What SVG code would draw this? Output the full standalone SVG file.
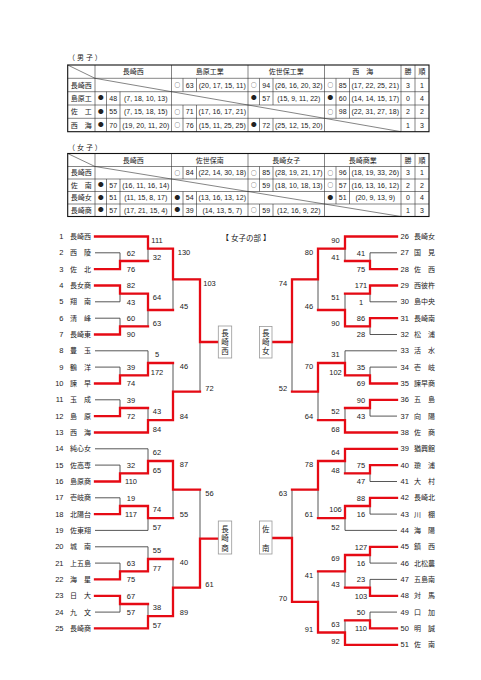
<svg xmlns="http://www.w3.org/2000/svg" width="481" height="680" viewBox="0 0 481 680">
<style>
text{font-family:"Liberation Sans","Noto Sans CJK JP",sans-serif;fill:#222}
.tc{font-size:7px;text-anchor:middle}
.ci{font-family:"Noto Sans CJK JP",sans-serif;font-size:5.6px;text-anchor:middle}
.lbl{font-size:7px}
.n{font-size:7.5px}
.ln{font-size:7.5px;text-anchor:end}
.nm{font-size:7px}
.s{font-size:7.5px;text-anchor:middle}
.bx{font-size:7.5px;text-anchor:middle}
.g{fill:none;stroke:#444;stroke-width:0.9}
.r{fill:none;stroke:#e60a14;stroke-width:2.3;stroke-linejoin:miter;stroke-linecap:square}
.tb{fill:none;stroke:#333;stroke-width:0.6}
.tbo{fill:none;stroke:#111;stroke-width:1.1}
.box{fill:#fff;stroke:#999;stroke-width:0.8}
</style>
<rect width="481" height="680" fill="#fff"/>

<g id="table-men">
<text class="lbl" x="68" y="60">（ 男 子 ）</text>
<path class="tb" d="M67.7 78.3H429M67.7 91.7H429M67.7 105H429M67.7 118.3H429
M95 65V131.7M171.5 65V131.7M248 65V131.7M324.5 65V131.7M401 65V131.7M415 65V131.7
M106.5 91.7V131.7M120 91.7V131.7
M183 78.3V91.7M196.5 78.3V91.7M183 105V131.7M196.5 105V131.7
M259.5 78.3V105M273 78.3V105M259.5 118.3V131.7M273 118.3V131.7
M336 78.3V118.3M349.5 78.3V118.3
M67.7 65L95 78.3M95 78.3L171.5 91.7M171.5 91.7L248 105M248 105L324.5 118.3M324.5 118.3L401 131.7"/>
<rect class="tbo" x="67.7" y="65" width="361.3" height="66.7"/>
<text class="tc" x="133.25" y="74.2">長崎西</text>
<text class="tc" x="209.75" y="74.2">島原工業</text>
<text class="tc" x="286.25" y="74.2">佐世保工業</text>
<text class="tc" x="362.75" y="74.2">西　海</text>
<text class="tc" x="408" y="74.2">勝</text>
<text class="tc" x="422" y="74.2">順</text>
<text class="tc" x="81.35" y="87.5">長崎西</text>
<text class="tc" x="81.35" y="100.85">島原工</text>
<text class="tc" x="81.35" y="114.15">佐　工</text>
<text class="tc" x="81.35" y="127.5">西　海</text>
<text class="ci" x="177.25" y="87.1">○</text><text class="tc" x="189.75" y="87.5">63</text><text class="tc" x="222.25" y="87.5">(20, 17, 15, 11)</text>
<text class="ci" x="253.75" y="87.1">○</text><text class="tc" x="266.25" y="87.5">94</text><text class="tc" x="298.75" y="87.5">(26, 16, 20, 32)</text>
<text class="ci" x="330.25" y="87.1">○</text><text class="tc" x="342.75" y="87.5">85</text><text class="tc" x="375.25" y="87.5">(17, 22, 25, 21)</text>
<text class="tc" x="408" y="87.5">3</text><text class="tc" x="422" y="87.5">1</text>
<text class="ci" x="100.75" y="100.45">●</text><text class="tc" x="113.25" y="100.85">48</text><text class="tc" x="145.75" y="100.85">(7, 18, 10, 13)</text>
<text class="ci" x="253.75" y="100.45">●</text><text class="tc" x="266.25" y="100.85">57</text><text class="tc" x="298.75" y="100.85">(15, 9, 11, 22)</text>
<text class="ci" x="330.25" y="100.45">●</text><text class="tc" x="342.75" y="100.85">60</text><text class="tc" x="375.25" y="100.85">(14, 14, 15, 17)</text>
<text class="tc" x="408" y="100.85">0</text><text class="tc" x="422" y="100.85">4</text>
<text class="ci" x="100.75" y="113.75">●</text><text class="tc" x="113.25" y="114.15">55</text><text class="tc" x="145.75" y="114.15">(7, 15, 18, 15)</text>
<text class="ci" x="177.25" y="113.75">○</text><text class="tc" x="189.75" y="114.15">71</text><text class="tc" x="222.25" y="114.15">(17, 16, 17, 21)</text>
<text class="ci" x="330.25" y="113.75">○</text><text class="tc" x="342.75" y="114.15">98</text><text class="tc" x="375.25" y="114.15">(22, 31, 27, 18)</text>
<text class="tc" x="408" y="114.15">2</text><text class="tc" x="422" y="114.15">2</text>
<text class="ci" x="100.75" y="127.1">●</text><text class="tc" x="113.25" y="127.5">70</text><text class="tc" x="145.75" y="127.5">(19, 20, 11, 20)</text>
<text class="ci" x="177.25" y="127.1">○</text><text class="tc" x="189.75" y="127.5">76</text><text class="tc" x="222.25" y="127.5">(15, 11, 25, 25)</text>
<text class="ci" x="253.75" y="127.1">●</text><text class="tc" x="266.25" y="127.5">72</text><text class="tc" x="298.75" y="127.5">(25, 12, 15, 20)</text>
<text class="tc" x="408" y="127.5">1</text><text class="tc" x="422" y="127.5">3</text>
</g>

<g id="table-women">
<text class="lbl" x="68" y="149.5">（ 女 子 ）</text>
<path class="tb" d="M67.7 166.5H429M67.7 179H429M67.7 191.5H429M67.7 204H429
M95 153.5V216.5M171.5 153.5V216.5M248 153.5V216.5M324.5 153.5V216.5M401 153.5V216.5M415 153.5V216.5
M106.5 179V216.5M120 179V216.5
M183 166.5V179M196.5 166.5V179M183 191.5V216.5M196.5 191.5V216.5
M259.5 166.5V191.5M273 166.5V191.5M259.5 204V216.5M273 204V216.5
M336 166.5V204M349.5 166.5V204
M67.7 153.5L95 166.5M95 166.5L171.5 179M171.5 179L248 191.5M248 191.5L324.5 204M324.5 204L401 216.5"/>
<rect class="tbo" x="67.7" y="153.5" width="361.3" height="63"/>
<text class="tc" x="133.25" y="162.5">長崎西</text>
<text class="tc" x="209.75" y="162.5">佐世保南</text>
<text class="tc" x="286.25" y="162.5">長崎女子</text>
<text class="tc" x="362.75" y="162.5">長崎商業</text>
<text class="tc" x="408" y="162.5">勝</text>
<text class="tc" x="422" y="162.5">順</text>
<text class="tc" x="81.35" y="175.25">長崎西</text>
<text class="tc" x="81.35" y="187.75">佐　南</text>
<text class="tc" x="81.35" y="200.25">長崎女</text>
<text class="tc" x="81.35" y="212.75">長崎商</text>
<text class="ci" x="177.25" y="174.85">○</text><text class="tc" x="189.75" y="175.25">84</text><text class="tc" x="222.25" y="175.25">(22, 14, 30, 18)</text>
<text class="ci" x="253.75" y="174.85">○</text><text class="tc" x="266.25" y="175.25">85</text><text class="tc" x="298.75" y="175.25">(28, 19, 21, 17)</text>
<text class="ci" x="330.25" y="174.85">○</text><text class="tc" x="342.75" y="175.25">96</text><text class="tc" x="375.25" y="175.25">(18, 19, 33, 26)</text>
<text class="tc" x="408" y="175.25">3</text><text class="tc" x="422" y="175.25">1</text>
<text class="ci" x="100.75" y="187.35">●</text><text class="tc" x="113.25" y="187.75">57</text><text class="tc" x="145.75" y="187.75">(16, 11, 16, 14)</text>
<text class="ci" x="253.75" y="187.35">○</text><text class="tc" x="266.25" y="187.75">59</text><text class="tc" x="298.75" y="187.75">(18, 10, 18, 13)</text>
<text class="ci" x="330.25" y="187.35">○</text><text class="tc" x="342.75" y="187.75">57</text><text class="tc" x="375.25" y="187.75">(16, 13, 16, 12)</text>
<text class="tc" x="408" y="187.75">2</text><text class="tc" x="422" y="187.75">2</text>
<text class="ci" x="100.75" y="199.85">●</text><text class="tc" x="113.25" y="200.25">51</text><text class="tc" x="145.75" y="200.25">(11, 15, 8, 17)</text>
<text class="ci" x="177.25" y="199.85">●</text><text class="tc" x="189.75" y="200.25">54</text><text class="tc" x="222.25" y="200.25">(13, 16, 13, 12)</text>
<text class="ci" x="330.25" y="199.85">●</text><text class="tc" x="342.75" y="200.25">51</text><text class="tc" x="375.25" y="200.25">(20, 9, 13, 9)</text>
<text class="tc" x="408" y="200.25">0</text><text class="tc" x="422" y="200.25">4</text>
<text class="ci" x="100.75" y="212.35">●</text><text class="tc" x="113.25" y="212.75">57</text><text class="tc" x="145.75" y="212.75">(17, 21, 15, 4)</text>
<text class="ci" x="177.25" y="212.35">●</text><text class="tc" x="189.75" y="212.75">39</text><text class="tc" x="222.25" y="212.75">(14, 13, 5, 7)</text>
<text class="ci" x="253.75" y="212.35">○</text><text class="tc" x="266.25" y="212.75">59</text><text class="tc" x="298.75" y="212.75">(12, 16, 9, 22)</text>
<text class="tc" x="408" y="212.75">1</text><text class="tc" x="422" y="212.75">3</text>
</g>

<text id="title" class="bx" x="246" y="241">【 女子の部 】</text>

<g id="connectors">
<path class="g" d="M95 236.5H148M95 252.8H120M95 269.2H120M95 285.5H120M95 301.8H120M95 318.2H120M95 334.5H120M95 350.8H148M95 367.1H120M95 383.5H120M95 399.8H120M95 416.1H120M95 432.5H148M95 448.8H148M95 465.1H120M95 481.5H120M95 497.8H120M95 514.1H120M95 530.4H148M95 546.8H148M95 563.1H120M95 579.4H120M95 595.8H120M95 612.1H120M95 628.4H148
M120 252.8V269.2M120 261H148M120 285.5V301.8M120 293.7H148M120 318.2V334.5M120 326.3H148M120 367.1V383.5M120 375.3H148M120 399.8V416.1M120 408H148M120 465.1V481.5M120 473.3H148M120 497.8V514.1M120 506H148M120 563.1V579.4M120 571.3H148M120 595.8V612.1M120 604H148
M148 236.5V261M148 248.7H173M148 293.7V326.3M148 310H173M148 350.8V375.3M148 363H173M148 408V432.5M148 420.2H173M148 448.8V473.3M148 461H173M148 506V530.4M148 518.2H173M148 546.8V571.3M148 559H173M148 604V628.4M148 616.2H173
M173 248.7V310M173 279.3H200M173 363V420.2M173 391.6H200M173 461V518.2M173 489.6H200M173 559V616.2M173 587.7H200
M200 279.3V391.6M200 342H218.3M200 489.6V587.7M200 538.6H218.3"/>
<path class="g" d="M397 236.5H345M397 252.8H370M397 269.2H370M397 285.5H370M397 301.8H370M397 318.2H370M397 334.5H370M397 350.8H345M397 367.1H370M397 383.5H370M397 399.8H370M397 416.1H370M397 432.5H345M397 448.8H345M397 465.1H370M397 481.5H370M397 497.8H370M397 514.1H370M397 530.4H345M397 546.8H370M397 563.1H370M397 579.4H370M397 595.8H370M397 612.1H370M397 628.4H370M397 644.8H345
M370 252.8V269.2M370 261H345M370 285.5V301.8M370 293.7H345M370 318.2V334.5M370 326.3H345M370 367.1V383.5M370 375.3H345M370 399.8V416.1M370 408H345M370 465.1V481.5M370 473.3H345M370 497.8V514.1M370 506H345M370 546.8V563.1M370 555H345M370 579.4V595.8M370 587.6H345M370 612.1V628.4M370 620.3H345
M345 236.5V261M345 248.7H318M345 293.7V326.3M345 310H318M345 350.8V375.3M345 363H318M345 408V432.5M345 420.2H318M345 448.8V473.3M345 461H318M345 506V530.4M345 518.2H318M345 555V587.6M345 571.3H318M345 620.3V644.8M345 632.5H318
M318 248.7V310M318 279.3H292M318 363V420.2M318 391.6H292M318 461V518.2M318 489.6H292M318 571.3V632.5M318 601.9H292
M292 279.3V391.6M292 342H272M292 489.6V601.9M292 538H272"/>
<path class="r" d="M95 236.5H148V248.7H173V279.3H200V342H218
M95 269.2H120V261H148
M95 285.5H120V293.7H148V310H173
M95 334.5H120V326.3H148
M95 383.5H120V375.3H148V363H173
M95 416.1H120V408H148
M95 432.5H148V420.2H173V391.6H200
M95 481.5H120V473.3H148V461H173V489.6H200
M95 514.1H120V506H148V518.2H173
M95 579.4H120V571.3H148V559H173
M95 595.8H120V604H148
M95 628.4H148V616.2H173V587.7H200V538.6H218"/>
<path class="r" d="M397 236.5H345V248.7H318V279.3H292V342H272.5
M397 269.2H370V261H345
M397 285.5H370V293.7H345
M397 318.2H370V326.3H345V310H318
M397 383.5H370V375.3H345V363H318V391.6H292
M397 399.8H370V408H345
M397 432.5H345V420.2H318
M397 448.8H345V461H318V489.6H292
M397 465.1H370V473.3H345
M397 497.8H370V506H345V518.2H318
M397 546.8H370V555H345V571.3H318
M397 595.8H370V587.6H345
M397 628.4H370V620.3H345
M397 644.8H345V632.5H318V601.9H292V538H272.5"/>
</g>

<g id="scores">
<text class="s" x="131" y="255.5">62</text><text class="s" x="131" y="271.9">76</text>
<text class="s" x="131" y="288.2">82</text><text class="s" x="131" y="304.5">43</text>
<text class="s" x="131" y="320.9">60</text><text class="s" x="131" y="337.2">90</text>
<text class="s" x="131" y="369.8">39</text><text class="s" x="131" y="386.2">74</text>
<text class="s" x="131" y="402.5">39</text><text class="s" x="131" y="418.8">72</text>
<text class="s" x="131" y="467.8">32</text><text class="s" x="131" y="484.2">110</text>
<text class="s" x="131" y="500.5">19</text><text class="s" x="131" y="516.8">117</text>
<text class="s" x="131" y="565.8">63</text><text class="s" x="131" y="582.1">75</text>
<text class="s" x="131" y="598.5">67</text><text class="s" x="131" y="614.8">57</text>
<text class="s" x="157" y="242.7">111</text><text class="s" x="157" y="260.2">32</text>
<text class="s" x="157" y="299.9">64</text><text class="s" x="157" y="325.5">63</text>
<text class="s" x="157" y="357">5</text><text class="s" x="157" y="374.5">172</text>
<text class="s" x="157" y="414.2">43</text><text class="s" x="157" y="431.7">84</text>
<text class="s" x="157" y="455">62</text><text class="s" x="157" y="472.5">65</text>
<text class="s" x="157" y="512.2">74</text><text class="s" x="157" y="529.6">57</text>
<text class="s" x="157" y="553">55</text><text class="s" x="157" y="570.5">77</text>
<text class="s" x="157" y="610.2">38</text><text class="s" x="157" y="627.6">57</text>
<text class="s" x="184" y="254.9">130</text><text class="s" x="184" y="309.2">45</text>
<text class="s" x="184" y="369.2">46</text><text class="s" x="184" y="419.4">84</text>
<text class="s" x="184" y="467.2">87</text><text class="s" x="184" y="517.4">55</text>
<text class="s" x="184" y="565.2">40</text><text class="s" x="184" y="615.4">89</text>
<text class="s" x="209.5" y="285.5">103</text><text class="s" x="209.5" y="390.8">72</text>
<text class="s" x="209.5" y="495.8">56</text><text class="s" x="209.5" y="586.9">61</text>

<text class="s" x="361" y="255.5">41</text><text class="s" x="361" y="271.9">75</text>
<text class="s" x="361" y="288.2">171</text><text class="s" x="361" y="304.5">1</text>
<text class="s" x="361" y="320.9">86</text><text class="s" x="361" y="337.2">28</text>
<text class="s" x="361" y="369.8">35</text><text class="s" x="361" y="386.2">69</text>
<text class="s" x="361" y="402.5">90</text><text class="s" x="361" y="418.8">43</text>
<text class="s" x="361" y="467.8">75</text><text class="s" x="361" y="484.2">47</text>
<text class="s" x="361" y="500.5">88</text><text class="s" x="361" y="516.8">16</text>
<text class="s" x="361" y="549.5">127</text><text class="s" x="361" y="565.8">16</text>
<text class="s" x="361" y="582.1">23</text><text class="s" x="361" y="598.5">103</text>
<text class="s" x="361" y="614.8">50</text><text class="s" x="361" y="631.1">110</text>
<text class="s" x="335.5" y="242.7">90</text><text class="s" x="335.5" y="260.2">41</text>
<text class="s" x="335.5" y="299.9">51</text><text class="s" x="335.5" y="325.5">90</text>
<text class="s" x="335.5" y="357">31</text><text class="s" x="335.5" y="374.5">102</text>
<text class="s" x="335.5" y="414.2">52</text><text class="s" x="335.5" y="431.7">68</text>
<text class="s" x="335.5" y="455">64</text><text class="s" x="335.5" y="472.5">48</text>
<text class="s" x="335.5" y="512.2">106</text><text class="s" x="335.5" y="529.6">52</text>
<text class="s" x="335.5" y="561.2">69</text><text class="s" x="335.5" y="586.8">43</text>
<text class="s" x="335.5" y="626.5">63</text><text class="s" x="335.5" y="644">92</text>
<text class="s" x="309" y="254.9">80</text><text class="s" x="309" y="309.2">46</text>
<text class="s" x="309" y="369.2">70</text><text class="s" x="309" y="419.4">64</text>
<text class="s" x="309" y="467.2">78</text><text class="s" x="309" y="517.4">61</text>
<text class="s" x="309" y="577.5">41</text><text class="s" x="309" y="631.7">91</text>
<text class="s" x="283" y="285.5">74</text><text class="s" x="283" y="390.8">52</text>
<text class="s" x="283" y="495.8">63</text><text class="s" x="283" y="601.1">70</text>
</g>

<g id="box-nagasakinishi"><rect class="box" x="218.3" y="326" width="13.4" height="32"/><text class="bx" x="225" y="336.1">長</text><text class="bx" x="225" y="344.6">崎</text><text class="bx" x="225" y="354.1">西</text></g>
<g id="box-nagasakisho"><rect class="box" x="218.3" y="521" width="13.4" height="33"/><text class="bx" x="225" y="531.9">長</text><text class="bx" x="225" y="540.9">崎</text><text class="bx" x="225" y="550.9">商</text></g>
<g id="box-nagasakijo"><rect class="box" x="259.5" y="326.5" width="12.5" height="31.5"/><text class="bx" x="265.75" y="336.1">長</text><text class="bx" x="265.75" y="344.6">崎</text><text class="bx" x="265.75" y="354.1">女</text></g>
<g id="box-sanan"><rect class="box" x="259.5" y="521" width="12.5" height="33"/><text class="bx" x="265.75" y="532">佐</text><text class="bx" x="265.75" y="550.9">南</text></g>

<g id="t1"><text class="ln" x="63.5" y="239.1">1</text><text class="nm" x="70" y="239.1">長崎西</text></g>
<g id="t2"><text class="ln" x="63.5" y="255.4">2</text><text class="nm" x="70" y="255.4">西　陵</text></g>
<g id="t3"><text class="ln" x="63.5" y="271.8">3</text><text class="nm" x="70" y="271.8">佐　北</text></g>
<g id="t4"><text class="ln" x="63.5" y="288.1">4</text><text class="nm" x="70" y="288.1">長女商</text></g>
<g id="t5"><text class="ln" x="63.5" y="304.4">5</text><text class="nm" x="70" y="304.4">翔　南</text></g>
<g id="t6"><text class="ln" x="63.5" y="320.8">6</text><text class="nm" x="70" y="320.8">清　峰</text></g>
<g id="t7"><text class="ln" x="63.5" y="337.1">7</text><text class="nm" x="70" y="337.1">長崎東</text></g>
<g id="t8"><text class="ln" x="63.5" y="353.4">8</text><text class="nm" x="70" y="353.4">豊　玉</text></g>
<g id="t9"><text class="ln" x="63.5" y="369.7">9</text><text class="nm" x="70" y="369.7">鶴　洋</text></g>
<g id="t10"><text class="ln" x="63.5" y="386.1">10</text><text class="nm" x="70" y="386.1">諫　早</text></g>
<g id="t11"><text class="ln" x="63.5" y="402.4">11</text><text class="nm" x="70" y="402.4">玉　成</text></g>
<g id="t12"><text class="ln" x="63.5" y="418.7">12</text><text class="nm" x="70" y="418.7">島　原</text></g>
<g id="t13"><text class="ln" x="63.5" y="435.1">13</text><text class="nm" x="70" y="435.1">西　海</text></g>
<g id="t14"><text class="ln" x="63.5" y="451.4">14</text><text class="nm" x="70" y="451.4">純心女</text></g>
<g id="t15"><text class="ln" x="63.5" y="467.7">15</text><text class="nm" x="70" y="467.7">佐高専</text></g>
<g id="t16"><text class="ln" x="63.5" y="484.1">16</text><text class="nm" x="70" y="484.1">島原商</text></g>
<g id="t17"><text class="ln" x="63.5" y="500.4">17</text><text class="nm" x="70" y="500.4">壱岐商</text></g>
<g id="t18"><text class="ln" x="63.5" y="516.7">18</text><text class="nm" x="70" y="516.7">北陽台</text></g>
<g id="t19"><text class="ln" x="63.5" y="533">19</text><text class="nm" x="70" y="533">佐東翔</text></g>
<g id="t20"><text class="ln" x="63.5" y="549.4">20</text><text class="nm" x="70" y="549.4">城　南</text></g>
<g id="t21"><text class="ln" x="63.5" y="565.7">21</text><text class="nm" x="70" y="565.7">上五島</text></g>
<g id="t22"><text class="ln" x="63.5" y="582">22</text><text class="nm" x="70" y="582">海　星</text></g>
<g id="t23"><text class="ln" x="63.5" y="598.4">23</text><text class="nm" x="70" y="598.4">日　大</text></g>
<g id="t24"><text class="ln" x="63.5" y="614.7">24</text><text class="nm" x="70" y="614.7">九　文</text></g>
<g id="t25"><text class="ln" x="63.5" y="631">25</text><text class="nm" x="70" y="631">長崎商</text></g>

<g id="t26"><text class="n" x="400.5" y="239.1">26</text><text class="nm" x="414" y="239.1">長崎女</text></g>
<g id="t27"><text class="n" x="400.5" y="255.4">27</text><text class="nm" x="414" y="255.4">国　見</text></g>
<g id="t28"><text class="n" x="400.5" y="271.8">28</text><text class="nm" x="414" y="271.8">佐　西</text></g>
<g id="t29"><text class="n" x="400.5" y="288.1">29</text><text class="nm" x="414" y="288.1">西彼杵</text></g>
<g id="t30"><text class="n" x="400.5" y="304.4">30</text><text class="nm" x="414" y="304.4">島中央</text></g>
<g id="t31"><text class="n" x="400.5" y="320.8">31</text><text class="nm" x="414" y="320.8">長崎南</text></g>
<g id="t32"><text class="n" x="400.5" y="337.1">32</text><text class="nm" x="414" y="337.1">松　浦</text></g>
<g id="t33"><text class="n" x="400.5" y="353.4">33</text><text class="nm" x="414" y="353.4">活　水</text></g>
<g id="t34"><text class="n" x="400.5" y="369.7">34</text><text class="nm" x="414" y="369.7">壱　岐</text></g>
<g id="t35"><text class="n" x="400.5" y="386.1">35</text><text class="nm" x="414" y="386.1">諫早商</text></g>
<g id="t36"><text class="n" x="400.5" y="402.4">36</text><text class="nm" x="414" y="402.4">五　島</text></g>
<g id="t37"><text class="n" x="400.5" y="418.7">37</text><text class="nm" x="414" y="418.7">向　陽</text></g>
<g id="t38"><text class="n" x="400.5" y="435.1">38</text><text class="nm" x="414" y="435.1">佐　商</text></g>
<g id="t39"><text class="n" x="400.5" y="451.4">39</text><text class="nm" x="414" y="451.4">猶興館</text></g>
<g id="t40"><text class="n" x="400.5" y="467.7">40</text><text class="nm" x="414" y="467.7">瓊　浦</text></g>
<g id="t41"><text class="n" x="400.5" y="484.1">41</text><text class="nm" x="414" y="484.1">大　村</text></g>
<g id="t42"><text class="n" x="400.5" y="500.4">42</text><text class="nm" x="414" y="500.4">長崎北</text></g>
<g id="t43"><text class="n" x="400.5" y="516.7">43</text><text class="nm" x="414" y="516.7">川　棚</text></g>
<g id="t44"><text class="n" x="400.5" y="533">44</text><text class="nm" x="414" y="533">海　陽</text></g>
<g id="t45"><text class="n" x="400.5" y="549.4">45</text><text class="nm" x="414" y="549.4">鎮　西</text></g>
<g id="t46"><text class="n" x="400.5" y="565.7">46</text><text class="nm" x="414" y="565.7">北松農</text></g>
<g id="t47"><text class="n" x="400.5" y="582">47</text><text class="nm" x="414" y="582">五島南</text></g>
<g id="t48"><text class="n" x="400.5" y="598.4">48</text><text class="nm" x="414" y="598.4">対　馬</text></g>
<g id="t49"><text class="n" x="400.5" y="614.7">49</text><text class="nm" x="414" y="614.7">口　加</text></g>
<g id="t50"><text class="n" x="400.5" y="631">50</text><text class="nm" x="414" y="631">明　誠</text></g>
<g id="t51"><text class="n" x="400.5" y="647.4">51</text><text class="nm" x="414" y="647.4">佐　南</text></g>
</svg>
